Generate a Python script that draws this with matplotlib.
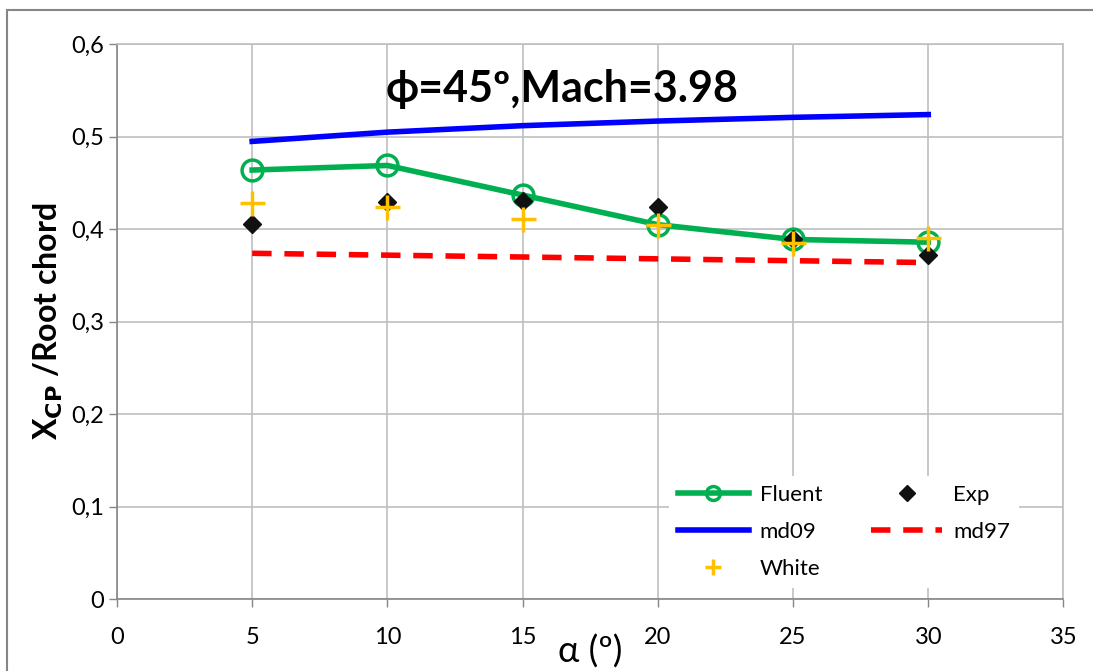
import matplotlib
matplotlib.use("Agg")
import matplotlib.pyplot as plt
from matplotlib.patches import Rectangle

GRID = "#bfbfbf"
GREEN = "#00b050"
BLUE = "#0000ff"
RED = "#ff0000"
GOLD = "#ffc000"

alpha = [5, 10, 15, 20, 25, 30]
fluent = [0.464, 0.469, 0.437, 0.405, 0.389, 0.386]
exp = [0.406, 0.429, 0.431, 0.424, 0.390, 0.372]
md09 = [0.495, 0.505, 0.512, 0.517, 0.521, 0.524]
md97 = [0.374, 0.372, 0.370, 0.368, 0.366, 0.364]
white = [0.428, 0.424, 0.411, 0.405, 0.385, 0.391]

xticks = [0, 5, 10, 15, 20, 25, 30, 35]
yticks = [0, 0.1, 0.2, 0.3, 0.4, 0.5, 0.6]

plt.rcParams["font.family"] = ["Lato", "DejaVu Sans"]

fig = plt.figure(figsize=(10.93, 6.71), dpi=100)
ax = fig.add_axes([0.107, 0.107, 0.866, 0.827])

h_fl, = ax.plot(alpha, fluent, color=GREEN, lw=4, marker="o", ms=15, mfc="none",
                mec=GREEN, mew=2.5, label="Fluent", zorder=4)
h_ex, = ax.plot(alpha, exp, ls="none", marker="D", ms=9, color="#111111",
                label="Exp", zorder=5)
h_09, = ax.plot(alpha, md09, color=BLUE, lw=4, label="md09", zorder=3)
h_97, = ax.plot(alpha, md97, color=RED, lw=4, ls=(0, (3.5, 2.3)), label="md97",
                zorder=3)
h_wh, = ax.plot(alpha, white, ls="none", marker="+", ms=18, mew=2.5, color=GOLD,
                label="White", zorder=6)

ax.set_xlim(0, 35)
ax.set_ylim(0, 0.6)
ax.set_xticks(xticks)
ax.set_yticks(yticks)
ax.set_yticklabels([f"{v:g}".replace(".", ",") for v in yticks])
ax.grid(True, color=GRID, lw=1.2)
ax.set_axisbelow(True)
for s in ax.spines.values():
    s.set_color(GRID)
    s.set_linewidth(1.2)
ax.spines["left"].set_color("#868686")
ax.spines["bottom"].set_color("#868686")
ax.tick_params(axis="both", labelsize=17, colors="#868686", labelcolor="black",
               length=6, width=1)
ax.tick_params(axis="x", pad=14)

ax.text(0.47, 0.955, "ϕ=45º,Mach=3.98", transform=ax.transAxes, ha="center",
        va="top", fontsize=31, fontweight="bold")
ax.set_xlabel("α (º)", fontsize=26, labelpad=-10)
ax.set_ylabel(r"X$_{\mathbf{CP}}$ /Root chord", fontsize=23, fontweight="bold",
              labelpad=4)

# column-first fill: left column Fluent/md09/White, right Exp/md97
leg = ax.legend([h_fl, h_09, h_wh, h_ex, h_97],
                ["Fluent", "md09", "White", "Exp", "md97"],
                loc="lower right", ncol=2, fontsize=16, frameon=True,
                bbox_to_anchor=(0.965, 0.0), handlelength=3.2,
                columnspacing=2.2, handletextpad=0.5, labelspacing=0.78)
leg.get_frame().set_edgecolor("none")
leg.get_frame().set_facecolor("white")
leg.get_frame().set_alpha(1)
lh = leg.legend_handles
lh[0].set_markersize(10)
lh[2].set_markersize(12)
lh[3].set_markersize(8)

fig.patches.append(Rectangle((0.006, -0.01), 1.0, 0.995, transform=fig.transFigure,
                             fill=False, edgecolor="#868686", lw=1.5))

fig.savefig("out.png", dpi=100)
